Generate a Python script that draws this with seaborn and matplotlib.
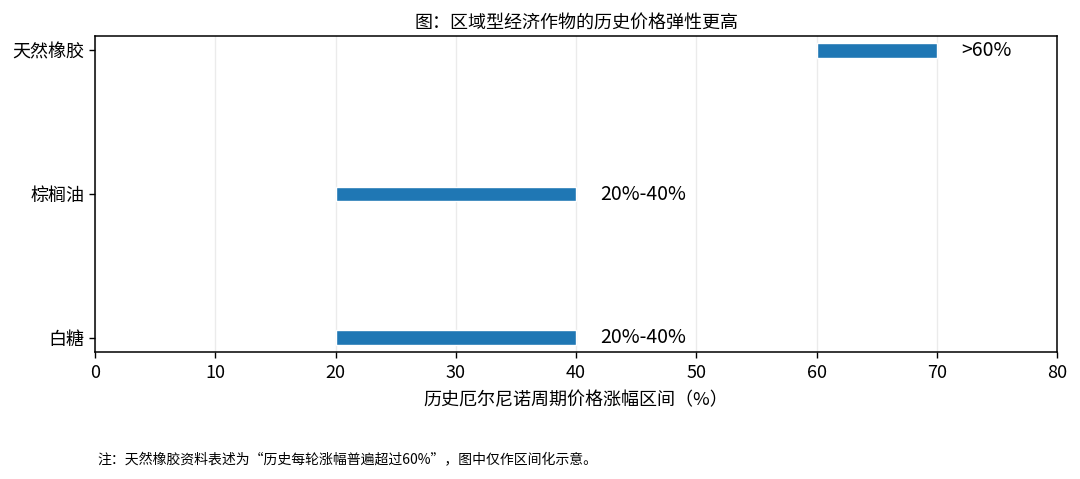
import matplotlib
matplotlib.use("Agg")
import matplotlib.pyplot as plt
import seaborn as sns
import pandas as pd

# data
crops = ["白糖", "棕榈油", "天然橡胶"]
low = [20, 20, 60]
high = [40, 40, 70]
labels = ["20%-40%", "20%-40%", ">60%"]

sns.set_style("white")
plt.rcParams["font.family"] = ["Noto Sans CJK SC", "DejaVu Sans"]
plt.rcParams["axes.unicode_minus"] = False
for key in ["text.color", "axes.labelcolor", "xtick.color", "ytick.color"]:
    plt.rcParams[key] = "black"

df = pd.DataFrame({"crop": crops, "low": low, "high": high, "label": labels})

fig = plt.figure(figsize=(10.8, 4.79), dpi=100)
ax = fig.add_axes([95 / 1080, 1 - 352 / 479, (1057 - 95) / 1080, (352 - 36) / 479])

ax.barh(range(len(df)), df["high"] - df["low"], left=df["low"], height=0.1,
        color=sns.color_palette()[0])
for i, row in df.iterrows():
    ax.text(row["high"] + 2, i, row["label"], va="center", ha="left", fontsize=14)

ax.set_xlim(0, 80)
ax.set_ylim(-0.1, 2.1)
ax.set_yticks(range(len(df)))
ax.set_yticklabels(df["crop"])
ax.tick_params(axis="both", labelsize=13, length=4, width=1, left=True, bottom=True)
ax.tick_params(axis="x", pad=5)
ax.xaxis.grid(True, color="#ebebeb", linewidth=1)
ax.set_axisbelow(True)
for s in ax.spines.values():
    s.set_color("black")
    s.set_linewidth(1.1)

ax.set_xlabel("历史厄尔尼诺周期价格涨幅区间（%）", fontsize=13, labelpad=6)
ax.set_title("图：区域型经济作物的历史价格弹性更高", fontsize=13, pad=6)

fig.text(97 / 1080, 1 - 460 / 479, "注：天然橡胶资料表述为“历史每轮涨幅普遍超过60%”，图中仅作区间化示意。",
         fontsize=10, va="center", ha="left")

fig.savefig("out.png", dpi=100)
